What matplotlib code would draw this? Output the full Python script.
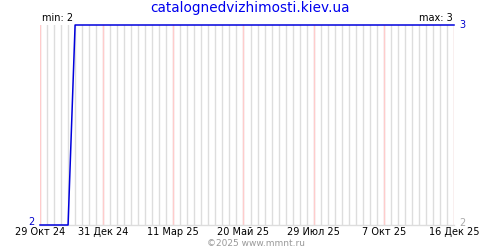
import matplotlib
matplotlib.use("Agg")
import matplotlib.pyplot as plt
import datetime as dt

title = "catalognedvizhimosti.kiev.ua"
footer = "©2025 www.mmnt.ru"
dates = ["2024-10-29", "2024-11-26", "2024-12-03", "2025-12-16"]
values = [2, 2, 3, 3]
tick_dates = ["2024-10-29", "2024-12-31", "2025-03-11", "2025-05-20",
              "2025-07-29", "2025-10-07", "2025-12-16"]
tick_labels = ["29 Окт 24", "31 Дек 24", "11 Мар 25", "20 Май 25",
               "29 Июл 25", "7 Окт 25", "16 Дек 25"]
y_min, y_max = 2, 3

x = [dt.datetime.fromisoformat(d) for d in dates]
tx = [dt.datetime.fromisoformat(d) for d in tick_dates]

fig = plt.figure(figsize=(5, 2.5), dpi=100)
ax = fig.add_axes([0.08, 0.1, 0.828, 0.8])
start, end = tx[0], tx[-1]
ax.set_xlim(start, end)
ax.set_ylim(y_min, y_max)

# weekly minor grid
weeks = []
d = start
while d <= end:
    weeks.append(d)
    d += dt.timedelta(days=7)
for w in weeks:
    ax.axvline(w, color="#dddddd", lw=1, zorder=1)
for t in tx:
    ax.axvline(t, color="#ffcccc", lw=1, zorder=2)
ax.axhline(y_min, color="#dddddd", lw=1, zorder=2, clip_on=False)

ax.plot(x, values, color="#0000dd", lw=1.1, zorder=5, clip_on=False)

for s in ax.spines.values():
    s.set_visible(False)
ax.set_xticks(tx)
ax.set_xticklabels(tick_labels, fontsize=7)
ax.tick_params(axis="x", length=0, pad=1.5)
ax.set_yticks([])

fig.text(0.5, 0.968, title, ha="center", va="center", color="#0000ee", fontsize=9.8)
fig.text(0.083, 0.927, f"min: {y_min}", ha="left", va="center", fontsize=7)
fig.text(0.905, 0.927, f"max: {y_max}", ha="right", va="center", fontsize=7)
fig.text(0.925, 0.9, f"{y_max}", ha="center", va="center", fontsize=7, color="#0000cc")
fig.text(0.062, 0.112, f"{y_min}", ha="center", va="center", fontsize=7, color="#0000cc")
fig.text(0.925, 0.108, f"{y_min}", ha="center", va="center", fontsize=7, color="#aaaaaa")
fig.text(0.512, 0.024, footer, ha="center", va="center", fontsize=6.5, color="#999999")

fig.savefig("out.png", dpi=100)
